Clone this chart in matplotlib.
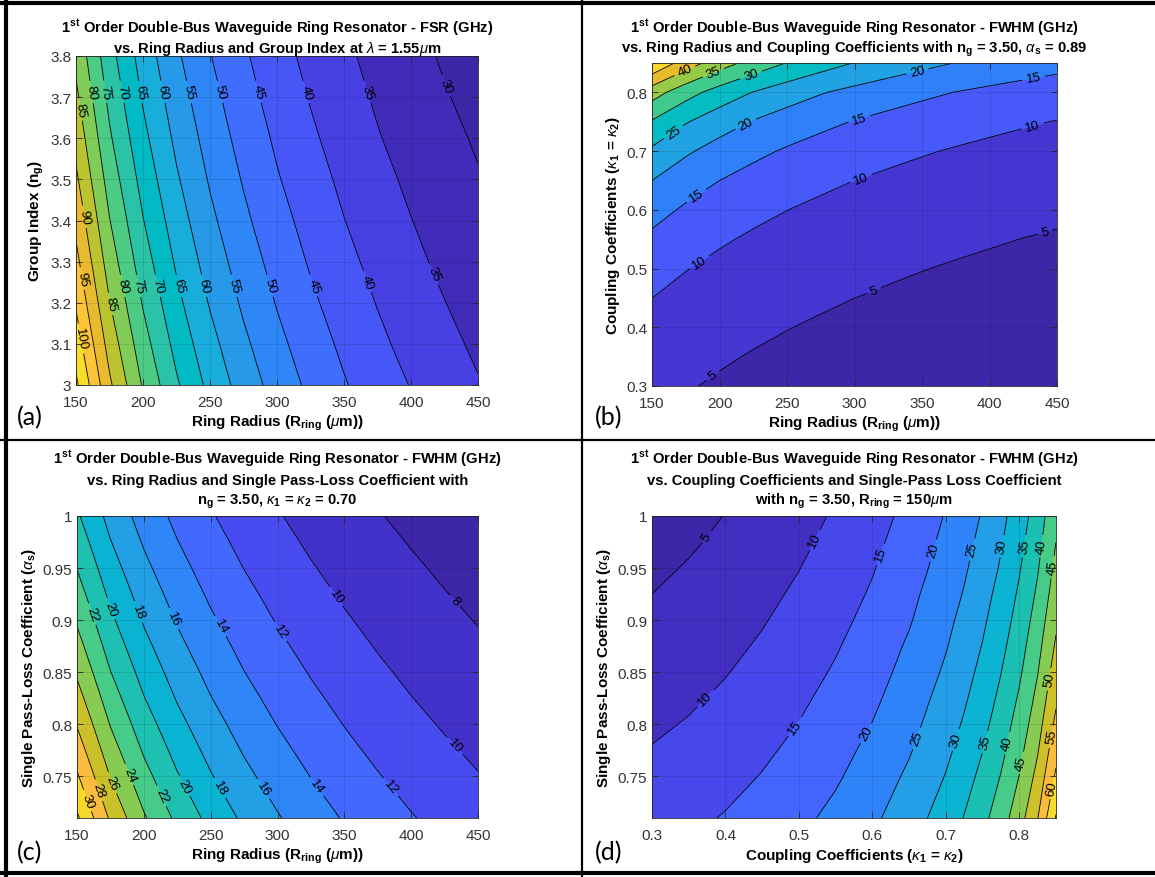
import numpy as np
import matplotlib
matplotlib.use('Agg')
import matplotlib.pyplot as plt
from matplotlib.colors import LinearSegmentedColormap
from matplotlib.lines import Line2D

# ---- data ----
radius = [150, 175, 200, 225, 250, 275, 300, 325, 350, 375, 400, 425, 450]   # R_ring (um)
group_index = [3.0, 3.1, 3.2, 3.3, 3.4, 3.5, 3.6, 3.7, 3.8]
kappa_b = [0.30, 0.35, 0.40, 0.45, 0.50, 0.55, 0.60, 0.65, 0.70, 0.75, 0.80, 0.85]
alpha_s = [0.71, 0.75, 0.775, 0.80, 0.825, 0.85, 0.875, 0.90, 0.925, 0.95, 0.975, 1.00]
kappa_d = [0.30, 0.35, 0.40, 0.45, 0.50, 0.55, 0.60, 0.65, 0.70, 0.725, 0.75, 0.775, 0.80, 0.825, 0.85]

# (a) FSR (GHz), rows = group index, cols = radius
fsr_a = [
    [106.0, 90.9, 79.5, 70.7, 63.6, 57.8, 53.0, 48.9, 45.4, 42.4, 39.8, 37.4, 35.3],
    [102.6, 88.0, 77.0, 68.4, 61.6, 56.0, 51.3, 47.4, 44.0, 41.0, 38.5, 36.2, 34.2],
    [99.4, 85.2, 74.6, 66.3, 59.6, 54.2, 49.7, 45.9, 42.6, 39.8, 37.3, 35.1, 33.1],
    [96.4, 82.6, 72.3, 64.3, 57.8, 52.6, 48.2, 44.5, 41.3, 38.6, 36.1, 34.0, 32.1],
    [93.6, 80.2, 70.2, 62.4, 56.1, 51.0, 46.8, 43.2, 40.1, 37.4, 35.1, 33.0, 31.2],
    [90.9, 77.9, 68.2, 60.6, 54.5, 49.6, 45.4, 42.0, 39.0, 36.4, 34.1, 32.1, 30.3],
    [88.4, 75.7, 66.3, 58.9, 53.0, 48.2, 44.2, 40.8, 37.9, 35.3, 33.1, 31.2, 29.5],
    [86.0, 73.7, 64.5, 57.3, 51.6, 46.9, 43.0, 39.7, 36.8, 34.4, 32.2, 30.3, 28.7],
    [83.7, 71.8, 62.8, 55.8, 50.2, 45.7, 41.9, 38.6, 35.9, 33.5, 31.4, 29.5, 27.9],
]
# (b) FWHM (GHz), rows = coupling coefficient, cols = radius
fwhm_b = [
    [6.12, 5.25, 4.59, 4.08, 3.67, 3.34, 3.06, 2.83, 2.62, 2.45, 2.30, 2.16, 2.04],
    [7.19, 6.16, 5.39, 4.79, 4.31, 3.92, 3.59, 3.32, 3.08, 2.88, 2.70, 2.54, 2.40],
    [8.48, 7.26, 6.36, 5.65, 5.09, 4.62, 4.24, 3.91, 3.63, 3.39, 3.18, 2.99, 2.83],
    [10.02, 8.58, 7.51, 6.68, 6.01, 5.46, 5.01, 4.62, 4.29, 4.01, 3.76, 3.53, 3.34],
    [11.86, 10.16, 8.89, 7.90, 7.11, 6.47, 5.93, 5.47, 5.08, 4.74, 4.45, 4.18, 3.95],
    [14.06, 12.05, 10.55, 9.37, 8.44, 7.67, 7.03, 6.49, 6.03, 5.62, 5.27, 4.96, 4.69],
    [16.73, 14.34, 12.55, 11.15, 10.04, 9.12, 8.36, 7.72, 7.17, 6.69, 6.27, 5.90, 5.58],
    [20.01, 17.15, 15.01, 13.34, 12.00, 10.91, 10.00, 9.23, 8.57, 8.00, 7.50, 7.06, 6.67],
    [24.14, 20.69, 18.11, 16.10, 14.49, 13.17, 12.07, 11.14, 10.35, 9.66, 9.05, 8.52, 8.05],
    [29.58, 25.35, 22.19, 19.72, 17.75, 16.13, 14.79, 13.65, 12.68, 11.83, 11.09, 10.44, 9.86],
    [37.25, 31.93, 27.94, 24.84, 22.35, 20.32, 18.63, 17.19, 15.97, 14.90, 13.97, 13.15, 12.42],
    [49.74, 42.63, 37.30, 33.16, 29.84, 27.13, 24.87, 22.96, 21.32, 19.89, 18.65, 17.55, 16.58],
]
# (c) FWHM (GHz), rows = single pass loss coefficient, cols = radius
fwhm_c = [
    [32.32, 27.70, 24.24, 21.55, 19.39, 17.63, 16.16, 14.92, 13.85, 12.93, 12.12, 11.41, 10.77],
    [30.24, 25.92, 22.68, 20.16, 18.14, 16.49, 15.12, 13.96, 12.96, 12.10, 11.34, 10.67, 10.08],
    [29.03, 24.88, 21.77, 19.35, 17.42, 15.83, 14.52, 13.40, 12.44, 11.61, 10.89, 10.25, 9.68],
    [27.88, 23.90, 20.91, 18.59, 16.73, 15.21, 13.94, 12.87, 11.95, 11.15, 10.45, 9.84, 9.29],
    [26.78, 22.95, 20.08, 17.85, 16.07, 14.61, 13.39, 12.36, 11.48, 10.71, 10.04, 9.45, 8.93],
    [25.73, 22.05, 19.30, 17.15, 15.44, 14.03, 12.87, 11.88, 11.03, 10.29, 9.65, 9.08, 8.58],
    [24.73, 21.19, 18.54, 16.48, 14.84, 13.49, 12.36, 11.41, 10.60, 9.89, 9.27, 8.73, 8.24],
    [23.76, 20.37, 17.82, 15.84, 14.26, 12.96, 11.88, 10.97, 10.18, 9.51, 8.91, 8.39, 7.92],
    [22.84, 19.58, 17.13, 15.23, 13.70, 12.46, 11.42, 10.54, 9.79, 9.14, 8.56, 8.06, 7.61],
    [21.95, 18.81, 16.46, 14.63, 13.17, 11.97, 10.97, 10.13, 9.41, 8.78, 8.23, 7.75, 7.32],
    [21.09, 18.08, 15.82, 14.06, 12.65, 11.50, 10.54, 9.73, 9.04, 8.44, 7.91, 7.44, 7.03],
    [20.26, 17.37, 15.20, 13.51, 12.16, 11.05, 10.13, 9.35, 8.68, 8.10, 7.60, 7.15, 6.75],
]
# (d) FWHM (GHz), rows = single pass loss coefficient, cols = coupling coefficient
fwhm_d = [
    [12.8, 14.0, 15.3, 16.9, 18.9, 21.2, 24.1, 27.7, 32.3, 35.2, 38.6, 42.7, 47.9, 54.8, 65.4],
    [11.2, 12.3, 13.6, 15.2, 17.1, 19.4, 22.3, 25.8, 30.2, 33.0, 36.3, 40.2, 45.1, 51.5, 60.8],
    [10.2, 11.3, 12.6, 14.2, 16.1, 18.4, 21.2, 24.6, 29.0, 31.7, 34.9, 38.7, 43.5, 49.6, 58.4],
    [9.3, 10.3, 11.7, 13.2, 15.1, 17.4, 20.1, 23.5, 27.9, 30.5, 33.6, 37.4, 42.0, 47.9, 56.2],
    [8.4, 9.4, 10.7, 12.3, 14.2, 16.4, 19.1, 22.5, 26.8, 29.4, 32.4, 36.1, 40.6, 46.3, 54.2],
    [7.5, 8.5, 9.8, 11.4, 13.2, 15.5, 18.2, 21.5, 25.7, 28.3, 31.3, 34.9, 39.2, 44.8, 52.4],
    [6.6, 7.7, 9.0, 10.5, 12.4, 14.6, 17.3, 20.6, 24.7, 27.3, 30.2, 33.7, 38.0, 43.4, 50.7],
    [5.8, 6.9, 8.1, 9.7, 11.5, 13.7, 16.4, 19.6, 23.8, 26.3, 29.2, 32.6, 36.8, 42.1, 49.1],
    [5.0, 6.1, 7.3, 8.9, 10.7, 12.9, 15.5, 18.8, 22.8, 25.3, 28.2, 31.6, 35.7, 40.8, 47.6],
    [4.2, 5.3, 6.6, 8.1, 9.9, 12.1, 14.7, 17.9, 21.9, 24.4, 27.2, 30.5, 34.6, 39.6, 46.3],
    [3.5, 4.5, 5.8, 7.3, 9.1, 11.3, 13.9, 17.1, 21.1, 23.5, 26.3, 29.6, 33.5, 38.5, 45.0],
    [2.7, 3.8, 5.1, 6.6, 8.4, 10.5, 13.1, 16.3, 20.3, 22.7, 25.4, 28.7, 32.5, 37.4, 43.7],
]

levels_a = list(range(30, 106, 5))
levels_b = list(range(5, 46, 5))
levels_c = list(range(8, 33, 2))
levels_d = list(range(5, 66, 5))

# where the contour labels sit (data coords)
lab_a = [(159.9, 3.712), (169.1, 3.712), (182.8, 3.712), (197.2, 3.712), (213.4, 3.712),
         (233.3, 3.712), (256.6, 3.712), (284.7, 3.712), (321.5, 3.712), (366.7, 3.712),
         (425.9, 3.727), (153, 3.67), (153, 3.258), (183.3, 3.24), (195.2, 3.24), (209.2, 3.24),
         (225, 3.24), (244, 3.24), (266.6, 3.24), (293.4, 3.24), (325.7, 3.24), (366, 3.25),
         (415.7, 3.268), (175.4, 3.197), (154.2, 3.408), (152.2, 3.112)]
lab_b = [(173.7, 0.840), (195.2, 0.835), (223.1, 0.831), (346.3, 0.839), (432.5, 0.829),
         (166.0, 0.732), (219.4, 0.746), (303.3, 0.757), (431.8, 0.745), (182.3, 0.626),
         (304.6, 0.655), (185.3, 0.511), (314.2, 0.464), (440.9, 0.564), (194.7, 0.319)]
lab_c = [(341.7, 0.921), (431.8, 0.9175), (159.5, 0.905), (172.9, 0.910), (193.6, 0.907),
         (221.7, 0.901), (255.8, 0.893), (301.9, 0.889), (432.6, 0.779), (156.2, 0.726),
         (164.9, 0.736), (174.9, 0.743), (187.3, 0.751), (213, 0.731), (229.2, 0.740),
         (255.8, 0.738), (289.4, 0.738), (329.3, 0.740), (384.1, 0.739)]
lab_d = [(0.376, 0.979), (0.522, 0.977), (0.612, 0.963), (0.683, 0.967), (0.735, 0.968),
         (0.775, 0.971), (0.807, 0.971), (0.832, 0.971), (0.845, 0.951), (0.371, 0.826),
         (0.494, 0.798), (0.592, 0.791), (0.662, 0.786), (0.714, 0.785), (0.752, 0.783),
         (0.784, 0.782), (0.803, 0.763), (0.842, 0.843), (0.844, 0.788), (0.844, 0.739)]

plt.rcParams['font.family'] = ['Liberation Sans', 'DejaVu Sans']
plt.rcParams['mathtext.fontset'] = 'custom'
plt.rcParams['mathtext.rm'] = 'Liberation Sans'
plt.rcParams['mathtext.it'] = 'Liberation Sans:italic'
plt.rcParams['mathtext.bf'] = 'Liberation Sans:bold'

# matlab parula (every other entry of the 64 colour table)
parula_rgb = [
    (0.2422, 0.1504, 0.6603), (0.2578, 0.1818, 0.7511), (0.2706, 0.2147, 0.8364), (0.2783, 0.2559, 0.8991),
    (0.2813, 0.3006, 0.9414), (0.2795, 0.3447, 0.9717), (0.2699, 0.3892, 0.9906), (0.2440, 0.4358, 0.9988),
    (0.1963, 0.4847, 0.9892), (0.1786, 0.5289, 0.9682), (0.1687, 0.5703, 0.9359), (0.1460, 0.6091, 0.9079),
    (0.1248, 0.6459, 0.8883), (0.0952, 0.6798, 0.8598), (0.0297, 0.7082, 0.8163), (0.0067, 0.7312, 0.7660),
    (0.0964, 0.7500, 0.7120), (0.1717, 0.7670, 0.6554), (0.2161, 0.7843, 0.5923), (0.2906, 0.7973, 0.5188),
    (0.3909, 0.8029, 0.4354), (0.5044, 0.7993, 0.3480), (0.6174, 0.7876, 0.2612), (0.7242, 0.7698, 0.1910),
    (0.8203, 0.7498, 0.1535), (0.9035, 0.7330, 0.1774), (0.9728, 0.7298, 0.2394), (0.9970, 0.7659, 0.2199),
    (0.9892, 0.8136, 0.1885), (0.9676, 0.8639, 0.1643), (0.9597, 0.9135, 0.1423), (0.9691, 0.9606, 0.1064)]
parula_pos = [2 * i / 63 for i in range(32)]
parula = LinearSegmentedColormap.from_list(
    'parula', list(zip(parula_pos, parula_rgb)) + [(1.0, (0.9769, 0.9839, 0.0805))])


def panel(ax, x, y, z, levels, labpos):
    z = np.asarray(z)
    zmin, zmax = z.min(), z.max()
    lv = [l for l in levels if zmin < l < zmax]
    bounds = [zmin] + lv + [zmax + 1e-9]
    # matlab fills each band with the colour of its lower level
    cols = [parula((b - zmin) / (zmax - zmin)) for b in bounds[:-1]]
    ax.contourf(x, y, z, levels=bounds, colors=cols)
    cs = ax.contour(x, y, z, levels=lv, colors='k', linewidths=0.6)
    ax.clabel(cs, fontsize=9.5, inline=True, inline_spacing=4, fmt='%g', manual=labpos)
    ax.grid(True, color='k', alpha=0.12, lw=0.6)
    ax.set_axisbelow(False)
    ax.tick_params(direction='in', top=True, right=True, length=4, width=0.6,
                   labelsize=11, labelcolor='#333333', color='#262626')
    ax.tick_params(axis='x', pad=7)
    for s in ax.spines.values():
        s.set_color('#262626')
        s.set_linewidth(0.6)


fig = plt.figure(figsize=(11.55, 8.78), dpi=100)
W, H = 1155.0, 878.0
def box(l, t, r, b):
    return [l / W, 1 - b / H, (r - l) / W, (b - t) / H]

def title(cx, baselines, lines):
    for yb, s in zip(baselines, lines):
        fig.text(cx / W, 1 - yb / H, s, ha='center', va='baseline', fontsize=10.6, fontweight='bold')

lfont = dict(fontsize=11, fontweight='bold')
head = r'$\mathbf{1^{st}}$ Order Double-Bus Waveguide Ring Resonator - FWHM (GHz)'
rlabel = r'Ring Radius (R$_{\mathbf{ring}}$ ($\mu$m))'
klabel = r'Coupling Coefficients ($\kappa_{\mathbf{1}}$ = $\kappa_{\mathbf{2}}$)'
alabel = r'Single Pass-Loss Coefficient ($\alpha_{\mathbf{s}}$)'
r_ticks = [150, 200, 250, 300, 350, 400, 450]
a_ticks = [0.75, 0.8, 0.85, 0.9, 0.95, 1.0]
a_ticklabels = ['0.75', '0.8', '0.85', '0.9', '0.95', '1']
k_ticks = [0.3, 0.4, 0.5, 0.6, 0.7, 0.8]
k_ticklabels = ['0.3', '0.4', '0.5', '0.6', '0.7', '0.8']

# (a)
ax = fig.add_axes(box(76, 57, 478, 386))
panel(ax, radius, group_index, fsr_a, levels_a, lab_a)
ax.set_xticks(r_ticks)
ax.set_yticks(group_index)
ax.set_yticklabels(['3', '3.1', '3.2', '3.3', '3.4', '3.5', '3.6', '3.7', '3.8'])
title(277, [32, 53], [r'$\mathbf{1^{st}}$ Order Double-Bus Waveguide Ring Resonator - FSR (GHz)',
                      r'vs. Ring Radius and Group Index at $\lambda$ = 1.55$\mu$m'])
ax.set_xlabel(rlabel, labelpad=3, **lfont)
ax.set_ylabel(r'Group Index (n$_{\mathbf{g}}$)', labelpad=3, **lfont)

# (b)
ax = fig.add_axes(box(652, 64, 1057, 387))
panel(ax, radius, kappa_b, fwhm_b, levels_b, lab_b)
ax.set_xticks(r_ticks)
ax.set_yticks([0.3, 0.4, 0.5, 0.6, 0.7, 0.8])
ax.set_yticklabels(['0.3', '0.4', '0.5', '0.6', '0.7', '0.8'])
title(854.5, [32, 53], [head, r'vs. Ring Radius and Coupling Coefficients with n$_{\mathbf{g}}$ = 3.50, '
                        r'$\alpha_{\mathbf{s}}$ = 0.89'])
ax.set_xlabel(rlabel, labelpad=3, **lfont)
ax.set_ylabel(klabel, labelpad=3, **lfont)

# (c)
ax = fig.add_axes(box(77, 517, 478, 819))
panel(ax, radius, alpha_s, fwhm_c, levels_c, lab_c)
ax.set_xticks(r_ticks)
ax.set_yticks(a_ticks)
ax.set_yticklabels(a_ticklabels)
title(277.5, [464, 485, 505], [head, 'vs. Ring Radius and Single Pass-Loss Coefficient with',
                               r'n$_{\mathbf{g}}$ = 3.50, $\kappa_{\mathbf{1}}$ = $\kappa_{\mathbf{2}}$ = 0.70'])
ax.set_xlabel(rlabel, labelpad=3, **lfont)
ax.set_ylabel(alabel, labelpad=3, **lfont)

# (d)
ax = fig.add_axes(box(652, 517, 1056, 819))
panel(ax, kappa_d, alpha_s, fwhm_d, levels_d, lab_d)
ax.set_xticks(k_ticks)
ax.set_xticklabels(k_ticklabels)
ax.set_yticks(a_ticks)
ax.set_yticklabels(a_ticklabels)
title(854, [464, 485, 505], [head, 'vs. Coupling Coefficients and Single-Pass Loss Coefficient',
                             r'with n$_{\mathbf{g}}$ = 3.50, R$_{\mathbf{ring}}$ = 150$\mu$m'])
ax.set_xlabel(klabel, labelpad=3, **lfont)
ax.set_ylabel(alabel, labelpad=3, **lfont)

for lab, x, y in (('(a)', 17, 418), ('(b)', 595, 418), ('(c)', 17, 853), ('(d)', 595, 853)):
    fig.text(x / W, 1 - y / H, lab, fontsize=18, family='Lato', va='center', ha='left')

# frame lines between the four pictures
for xs, ys, lw in (([0, 1], [1 - 4 / H] * 2, 3.0), ([6 / W] * 2, [0, 1], 3.0),
                   ([0, 1], [1 - 874 / H] * 2, 3.0), ([582 / W] * 2, [0, 1], 1.6),
                   ([0, 1], [1 - 441 / H] * 2, 1.6)):
    fig.add_artist(Line2D(xs, ys, color='k', lw=lw, transform=fig.transFigure))

fig.savefig('out.png', dpi=100)
